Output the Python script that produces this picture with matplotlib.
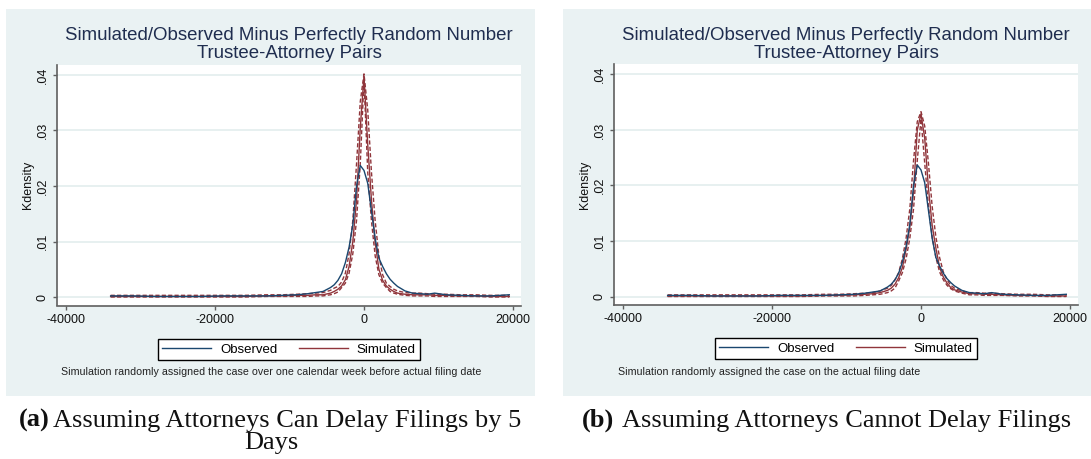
import matplotlib
matplotlib.use('Agg')
import matplotlib.pyplot as plt
from matplotlib.patches import Rectangle
from matplotlib.lines import Line2D

# ---------------- data ----------------
diff_x = [-34000, -31000, -28000, -25000, -22000, -19000, -16000, -13000, -11000, -9000,
          -7500, -6500, -5500, -4500, -4000, -3500, -3000, -2500, -2000, -1500,
          -1000, -500, 0, 500, 1000, 1500, 2000, 2500, 3000, 3500,
          4000, 4500, 5500, 6500, 7500, 8500, 9500, 11000, 13000, 15000,
          17000, 19500]

observed = [.0002, .0002, .0001, .0001, .0001, .0002, .0002, .0002, .0003, .0004,
            .0006, .0008, .0010, .0017, .0022, .0030, .0042, .0062, .0090, .0130,
            .0200, .0237, .0228, .0205, .0155, .0105, .0070, .0055, .0042, .0032,
            .0025, .0019, .0011, .0007, .0006, .0005, .0007, .0004, .0003, .0002,
            .0002, .0004]

sim_a = [.0001, .0001, .0001, .0001, .0001, .0001, .0001, .0002, .0002, .0003,
         .0003, .0004, .0004, .0007, .0010, .0014, .0020, .0031, .0055, .0100,
         .0175, .0305, .0398, .0275, .0175, .0098, .0050, .0030, .0020, .0014,
         .0010, .0007, .0005, .0004, .0004, .0004, .0003, .0003, .0002, .0002,
         .0001, .0001]
sim_a_hi = [.0003, .0003, .0003, .0003, .0003, .0003, .0003, .0004, .0004, .0005,
            .0006, .0007, .0008, .0012, .0016, .0019, .0027, .0043, .0078, .0138,
            .0240, .0352, .0402, .0337, .0225, .0137, .0074, .0040, .0025, .0019,
            .0014, .0011, .0008, .0007, .0007, .0006, .0005, .0005, .0004, .0004,
            .0003, .0003]
sim_a_lo = [0, 0, 0, 0, 0, 0, 0, .0001, .0001, .0001,
            .0001, .0002, .0002, .0004, .0006, .0009, .0017, .0025, .0043, .0078,
            .0138, .0240, .0392, .0225, .0137, .0074, .0040, .0025, .0017, .0010,
            .0007, .0005, .0003, .0002, .0002, .0002, .0001, .0001, .0001, .0001,
            0, 0]

sim_b = [.0001, .0001, .0001, .0001, .0001, .0001, .0001, .0002, .0002, .0003,
         .0004, .0005, .0007, .0011, .0015, .0022, .0034, .0052, .0085, .0125,
         .0190, .0300, .0329, .0285, .0195, .0128, .0087, .0052, .0035, .0024,
         .0016, .0012, .0008, .0005, .0005, .0004, .0004, .0003, .0002, .0002,
         .0001, .0001]
sim_b_hi = [.0003, .0003, .0003, .0003, .0003, .0003, .0003, .0004, .0004, .0005,
            .0006, .0007, .0010, .0015, .0020, .0030, .0043, .0068, .0105, .0158,
            .0245, .0315, .0333, .0307, .0240, .0162, .0107, .0070, .0044, .0030,
            .0020, .0015, .0010, .0007, .0007, .0006, .0006, .0005, .0004, .0004,
            .0003, .0003]
sim_b_lo = [0, 0, 0, 0, 0, 0, 0, .0001, .0001, .0001,
            .0002, .0003, .0004, .0007, .0010, .0015, .0028, .0043, .0068, .0105,
            .0158, .0245, .0320, .0240, .0162, .0107, .0070, .0044, .0030, .0020,
            .0014, .0010, .0006, .0003, .0003, .0002, .0002, .0002, .0001, .0001,
            0, 0]

x_ticks = [-40000, -20000, 0, 20000]
x_tick_labels = ['-40000', '-20000', '0', '20000']
y_ticks = [0, .01, .02, .03, .04]
y_tick_labels = ['0', '.01', '.02', '.03', '.04']

title_lines = ['Simulated/Observed Minus Perfectly Random Number', 'Trustee-Attorney Pairs']
y_label = 'Kdensity'
legend_labels = ['Observed', 'Simulated']
notes = ['Simulation randomly assigned the case over one calendar week before actual filing date',
         'Simulation randomly assigned the case on the actual filing date']
caption_tags = ['(a)', '(b)']
caption_texts = [['Assuming Attorneys Can Delay Filings by 5', 'Days'],
                 ['Assuming Attorneys Cannot Delay Filings']]

# ---------------- style ----------------
plt.rcParams['font.family'] = ['Liberation Sans', 'DejaVu Sans']
W, H = 1091, 459
BG = '#eaf2f3'
GRID = '#e3edee'
NAVY = '#1a476f'
MAROON = '#90353b'
TITLE_C = '#1f2d4f'
AXIS_C = '#5f5f5f'

fig = plt.figure(figsize=(W / 100, H / 100), dpi=100)
fig.patch.set_facecolor('white')
renderer = fig.canvas.get_renderer()


def fx(x):
    return x / W


def fy(y):
    return 1 - y / H


def fit(t, target):
    bb = t.get_window_extent(renderer)
    t.set_fontsize(t.get_fontsize() * target / bb.width)
    return t.get_fontsize()


panels = [
    dict(bg=(6, 9, 535, 396), ax=(57, 65, 521, 305.5), sims=(sim_a, sim_a_hi, sim_a_lo),
         legend_y=349.5, note_x=61),
    dict(bg=(563, 9, 1092, 396), ax=(614, 64.5, 1078, 305), sims=(sim_b, sim_b_hi, sim_b_lo),
         legend_y=348.5, note_x=618),
]

title_size = None
note_size = None
for i, p in enumerate(panels):
    x0, y0, x1, y1 = p['bg']
    fig.add_artist(Rectangle((fx(x0), fy(y1)), (x1 - x0) / W, (y1 - y0) / H,
                             transform=fig.transFigure, facecolor=BG, edgecolor='none', zorder=0))
    l, t, r, b = p['ax']
    ax = fig.add_axes([fx(l), fy(b), (r - l) / W, (b - t) / H])
    ax.set_facecolor('white')
    ax.set_zorder(1)
    sim, hi, lo = p['sims']
    ax.plot(diff_x, lo, color=MAROON, lw=1.0, ls=(0, (3, 1.6)), zorder=2)
    ax.plot(diff_x, hi, color=MAROON, lw=1.0, ls=(0, (3, 1.6)), zorder=2)
    ax.plot(diff_x, sim, color=MAROON, lw=1.0, zorder=3)
    ax.plot(diff_x, observed, color=NAVY, lw=1.0, zorder=4)
    ax.set_xlim(-41200, 21070)
    ax.set_ylim(-0.00153, 0.0418)
    ax.set_xticks(x_ticks)
    ax.set_xticklabels(x_tick_labels)
    ax.set_yticks(y_ticks)
    ax.set_yticklabels(y_tick_labels, rotation=90, va='center')
    for s in ['top', 'right']:
        ax.spines[s].set_visible(False)
    for s in ['left', 'bottom']:
        ax.spines[s].set_color(AXIS_C)
        ax.spines[s].set_linewidth(1.2)
    ax.tick_params(axis='both', length=3, width=1, color=AXIS_C, labelsize=9, labelcolor='#111111', pad=3)
    ax.yaxis.grid(True, color=GRID, lw=1.2)
    ax.set_axisbelow(True)
    ax.set_ylabel(y_label, fontsize=9, color='#111111')
    ax.yaxis.label.set_va('center')
    ax.yaxis.set_label_coords(-29 / (r - l), 0.5)

    cx = (l + r) / 2
    t1 = fig.text(fx(cx), fy(40), title_lines[0], ha='center', va='baseline', color=TITLE_C, fontsize=13)
    if title_size is None:
        title_size = fit(t1, 449)
    t1.set_fontsize(title_size)
    fig.text(fx(cx), fy(58.5), title_lines[1], ha='center', va='baseline', color=TITLE_C, fontsize=title_size)

    handles = [Line2D([], [], color=NAVY, lw=1.0), Line2D([], [], color=MAROON, lw=1.0)]
    leg = fig.legend(handles, legend_labels, ncol=2, loc='center',
                     bbox_to_anchor=(fx(cx), fy(p['legend_y'])), bbox_transform=fig.transFigure,
                     frameon=True, fancybox=False, edgecolor='black', framealpha=1, facecolor='white',
                     fontsize=9.5, handlelength=3.7, handletextpad=0.7, columnspacing=1.6,
                     borderpad=0.35, borderaxespad=0)
    leg.get_frame().set_linewidth(1.0)
    leg.set_zorder(5)

    nt = fig.text(fx(p['note_x']), fy(372), notes[i], ha='left', va='center', fontsize=7.5, color='#222222')
    if note_size is None:
        note_size = fit(nt, 413)
    nt.set_fontsize(note_size)

# captions
cap_a = fig.text(fx(521), fy(427), caption_texts[0][0], ha='right', va='baseline',
                 family='Liberation Serif', fontsize=18, color='#111111')
cap_size = fit(cap_a, 468)
fig.text(fx(19), fy(427), caption_tags[0], ha='left', va='baseline', family='Liberation Serif',
         fontweight='bold', fontsize=cap_size, color='#111111')
fig.text(fx(271), fy(449), caption_texts[0][1], ha='center', va='baseline', family='Liberation Serif',
         fontsize=cap_size, color='#111111')
fig.text(fx(1071), fy(427), caption_texts[1][0], ha='right', va='baseline', family='Liberation Serif',
         fontsize=cap_size, color='#111111')
fig.text(fx(582), fy(427), caption_tags[1], ha='left', va='baseline', family='Liberation Serif',
         fontweight='bold', fontsize=cap_size, color='#111111')

fig.savefig('out.png', dpi=100, facecolor='white')
